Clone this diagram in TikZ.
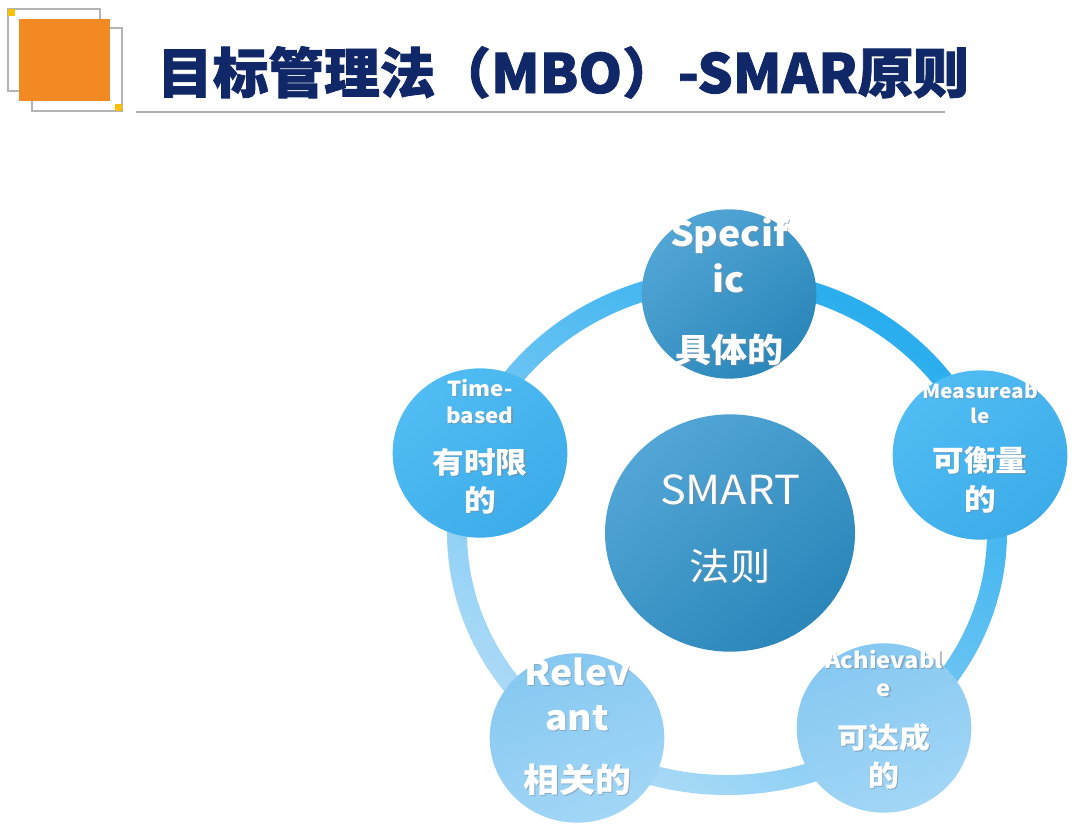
\documentclass[tikz,border=0pt]{standalone}
\usepackage{fontspec}
\setmainfont{Noto Sans CJK SC}
\newfontfamily\yh{Noto Sans CJK SC}[FakeStretch=1.08]
\newfontfamily\titlefont{Noto Sans CJK SC}[FakeStretch=1.03, BoldFeatures={FakeBold=1.6}]
\usetikzlibrary{shapes.geometric}
\definecolor{navy}{HTML}{112868}
\definecolor{orangeL}{HTML}{F28A24}
\definecolor{yellowL}{HTML}{FFC000}
\definecolor{logoGray}{HTML}{B4B4B4}
\definecolor{ruleGray}{HTML}{B0B0B0}
\definecolor{steelA}{HTML}{52A6D6}
\definecolor{steelB}{HTML}{2A86B9}
\definecolor{skyA}{HTML}{50BCF3}
\definecolor{skyB}{HTML}{3CACE9}
\definecolor{paleA}{HTML}{86C8F1}
\definecolor{paleB}{HTML}{A2D6F6}
\definecolor{ringA}{HTML}{28ADEE}
\definecolor{ringB}{HTML}{AEDBF7}
\definecolor{shadowG}{HTML}{7A8A99}
\newcommand\myfs[1]{\fontsize{#1}{#1}\selectfont}
\tikzset{
  logoline/.style={draw=logoGray, line width=0.9pt},
  bub/.style={ellipse, inner sep=0pt, minimum width=131pt, minimum height=127pt},
  core/.style={ellipse, inner sep=0pt, minimum width=187.5pt, minimum height=178pt},
  steel/.style={top color=steelA, bottom color=steelB, shading angle=40},
  sky/.style={top color=skyA, bottom color=skyB, shading angle=40},
  pale/.style={top color=paleA, bottom color=paleB, shading angle=20},
  lab/.style={text=white, anchor=base, inner sep=0pt},
  shd/.style={text=shadowG, text opacity=0.55, anchor=base, inner sep=0pt, xshift=0.9pt, yshift=-0.9pt},
}
% #1 name, #2 position, #3 font, #4 text
\newcommand\shadowlabel[4]{%
  \node[shd, font=#3] (#1sh) at #2 {#4};
  \node[lab, font=#3] (#1) at #2 {#4};}
\begin{document}
\begin{tikzpicture}[x=0.75pt,y=-0.75pt]
\useasboundingbox (0,0) rectangle (1080,833);
\fill[white] (0,0) rectangle (1080,833);
% logo
\draw[logoline] (8,9) rectangle (100,91);
\draw[logoline] (32,28) rectangle (122,111);
\fill[orangeL] (19,19) rectangle (110,101);
\fill[yellowL] (8,9) rectangle (15,16);
\fill[yellowL] (115,104) rectangle (122,111);
% title
\node[anchor=base west, inner sep=0pt, text=navy, font=\titlefont\bfseries\myfs{40.5}] (title) at (157,93) {目标管理法（MBO）-SMAR原则};
\coordinate (ruleL) at (136,112);
\coordinate (ruleR) at (945,112);
\draw[ruleGray, line width=1.5pt] (ruleL) -- (ruleR);
% ring
\shade[even odd rule, top color=ringA, bottom color=ringB, shading angle=-35]
  (727,532) ellipse[x radius=210pt, y radius=197.25pt]
  (727,532) ellipse[x radius=195pt, y radius=182.25pt];
% circles
\node[bub, steel] (cS) at (729,294) {};
\node[bub, sky]   (cT) at (480,453) {};
\node[bub, sky]   (cM) at (980,455) {};
\node[bub, pale]  (cR) at (577,738) {};
\node[bub, pale]  (cA) at (884,728) {};
\node[core, steel] (cC) at (730,533) {};
% Specific
\shadowlabel{s1}{(729,246)}{\yh\bfseries\myfs{26}}{Specif}
\shadowlabel{s2}{(729,292)}{\yh\bfseries\myfs{26}}{ic}
\shadowlabel{s3}{(729,362)}{\yh\bfseries\myfs{25}}{具体的}
% Time-based
\shadowlabel{t1}{(480,396)}{\yh\bfseries\myfs{15.5}}{Time-}
\shadowlabel{t2}{(480,423)}{\yh\bfseries\myfs{15.5}}{based}
\shadowlabel{t3}{(480,473)}{\yh\bfseries\myfs{22}}{有时限}
\shadowlabel{t4}{(480,511)}{\yh\bfseries\myfs{22}}{的}
% Measureable
\shadowlabel{m1}{(980,398)}{\yh\bfseries\myfs{14.5}}{Measureab}
\shadowlabel{m2}{(980,423)}{\yh\bfseries\myfs{14.5}}{le}
\shadowlabel{m3}{(980,471)}{\yh\bfseries\myfs{22}}{可衡量}
\shadowlabel{m4}{(980,510)}{\yh\bfseries\myfs{22}}{的}
% SMART
\shadowlabel{c1}{(730,504)}{\yh\myfs{30}}{SMART}
\shadowlabel{c2}{(730,580)}{\yh\myfs{28}}{法则}
% Relevant
\shadowlabel{r1}{(577,685)}{\yh\bfseries\myfs{26}}{Relev}
\shadowlabel{r2}{(577,730)}{\yh\bfseries\myfs{26}}{ant}
\shadowlabel{r3}{(577,792)}{\yh\bfseries\myfs{25}}{相关的}
% Achievable
\shadowlabel{a1}{(884,668)}{\yh\bfseries\myfs{16.5}}{Achievabl}
\shadowlabel{a2}{(884,696)}{\yh\bfseries\myfs{16.5}}{e}
\shadowlabel{a3}{(884,748)}{\yh\bfseries\myfs{21.5}}{可达成}
\shadowlabel{a4}{(884,786)}{\yh\bfseries\myfs{21.5}}{的}
\end{tikzpicture}
\end{document}
